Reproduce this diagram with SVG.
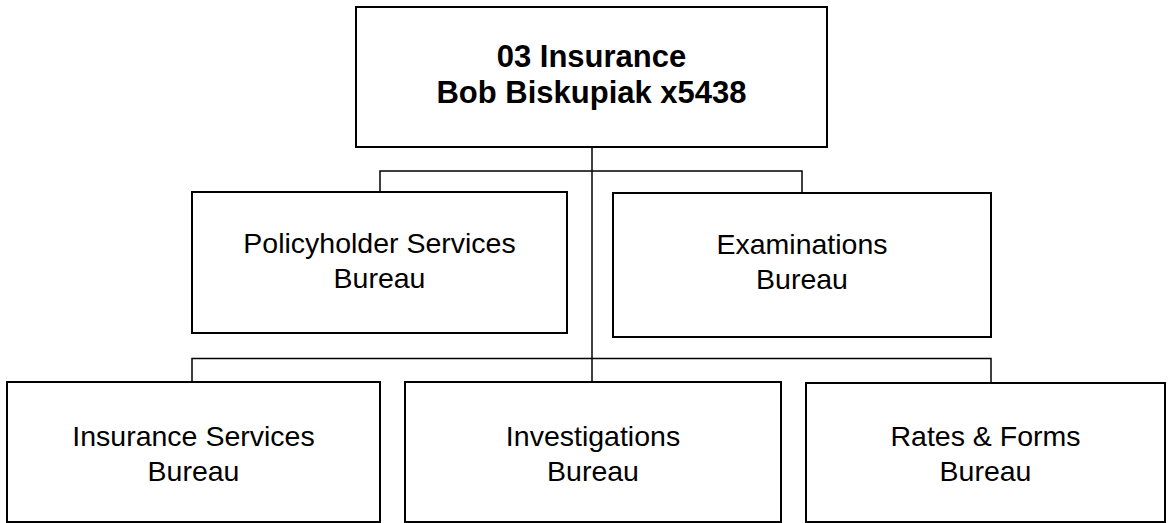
<svg xmlns="http://www.w3.org/2000/svg" width="1169" height="523" viewBox="0 0 1169 523">
<style>
.box{fill:#fff;stroke:#000;stroke-width:2}
.conn{fill:none;stroke:#000;stroke-width:1.5}
.t{font-family:"Liberation Sans",Arial,sans-serif;font-size:28.5px;fill:#000;text-anchor:middle}
.h{font-family:"Liberation Sans",Arial,sans-serif;font-size:31px;font-weight:bold;fill:#000;text-anchor:middle}
</style>
<rect width="1169" height="523" fill="#fff"/>
<g id="connectors">
<path class="conn" d="M592 147V382"/>
<path class="conn" d="M380 192V171H802V193"/>
<path class="conn" d="M192 382V358.5H991V383"/>
</g>
<g id="n-top">
<rect class="box" x="356" y="7" width="471" height="140"/>
<text class="h" x="591.5" y="67">03 Insurance</text>
<text class="h" x="591.5" y="103">Bob Biskupiak x5438</text>
</g>
<g id="n-policyholder">
<rect class="box" x="192" y="192" width="375" height="141"/>
<text class="t" x="379.5" y="253">Policyholder Services</text>
<text class="t" x="379.5" y="288">Bureau</text>
</g>
<g id="n-examinations">
<rect class="box" x="613" y="193" width="378" height="144"/>
<text class="t" x="802" y="254">Examinations</text>
<text class="t" x="802" y="289">Bureau</text>
</g>
<g id="n-insurance-services">
<rect class="box" x="7" y="382" width="373" height="140"/>
<text class="t" x="193.5" y="446">Insurance Services</text>
<text class="t" x="193.5" y="481">Bureau</text>
</g>
<g id="n-investigations">
<rect class="box" x="405" y="382" width="376" height="140"/>
<text class="t" x="593" y="446">Investigations</text>
<text class="t" x="593" y="481">Bureau</text>
</g>
<g id="n-rates-forms">
<rect class="box" x="806" y="383" width="359" height="139"/>
<text class="t" x="985.5" y="446">Rates &amp; Forms</text>
<text class="t" x="985.5" y="481">Bureau</text>
</g>
</svg>
